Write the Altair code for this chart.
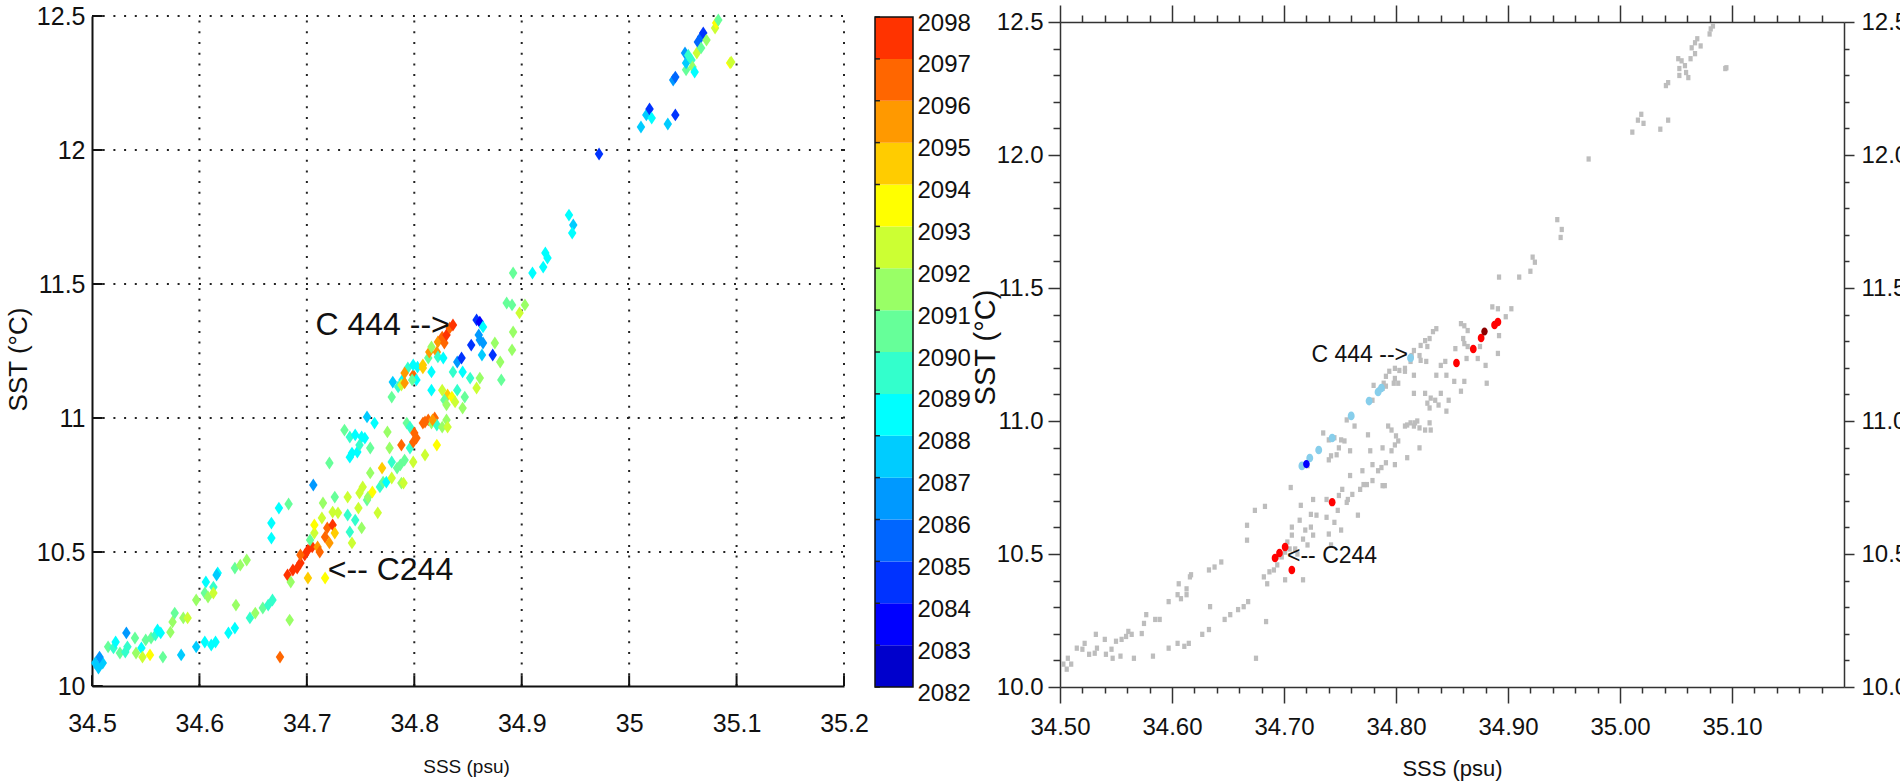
import altair as alt
import pandas as pd

FONT = "Liberation Sans, Arial, sans-serif"

# Sea-surface salinity (psu), temperature (degC) and sampling day of each record
sss = [34.503, 34.506, 34.510, 34.507, 34.515, 34.520, 34.522, 34.526, 34.531, 34.532,
       34.533, 34.540, 34.541, 34.546, 34.547, 34.550, 34.554, 34.555, 34.559, 34.561,
       34.564, 34.566, 34.573, 34.575, 34.577, 34.583, 34.585, 34.589, 34.597, 34.597,
       34.605, 34.606, 34.605, 34.608, 34.613, 34.613, 34.611, 34.615, 34.617, 34.627,
       34.633, 34.634, 34.633, 34.638, 34.644, 34.647, 34.652, 34.659, 34.664, 34.668,
       34.675, 34.684, 34.682, 34.685, 34.687, 34.691, 34.694, 34.701, 34.717, 34.616,
       34.667, 34.667, 34.674, 34.683, 34.698, 34.701, 34.705, 34.694, 34.703, 34.707,
       34.707, 34.710, 34.712, 34.714, 34.715, 34.717, 34.719, 34.721, 34.724, 34.726,
       34.724, 34.729, 34.726, 34.706, 34.721, 34.738, 34.738, 34.740, 34.742, 34.745,
       34.748, 34.749, 34.751, 34.752, 34.756, 34.757, 34.759, 34.761, 34.766, 34.768,
       34.770, 34.771, 34.774, 34.779, 34.779, 34.784, 34.787, 34.788, 34.791, 34.796,
       34.799, 34.810, 34.821, 34.742, 34.747, 34.759, 34.777, 34.788, 34.799, 34.735,
       34.740, 34.745, 34.751, 34.740, 34.756, 34.763, 34.775, 34.779, 34.780, 34.785,
       34.789, 34.788, 34.791, 34.794, 34.799, 34.802, 34.799, 34.803, 34.808, 34.813,
       34.814, 34.816, 34.821, 34.822, 34.822, 34.826, 34.828, 34.830, 34.833, 34.836,
       34.827, 34.816, 34.816, 34.808, 34.798, 34.791, 34.808, 34.813, 34.819, 34.816,
       34.821, 34.826, 34.826, 34.831, 34.828, 34.830, 34.835, 34.838, 34.840, 34.836,
       34.840, 34.844, 34.845, 34.847, 34.845, 34.852, 34.853, 34.858, 34.861, 34.864,
       34.860, 34.861, 34.864, 34.863, 34.861, 34.858, 34.873, 34.875, 34.880, 34.881,
       34.891, 34.892, 34.886, 34.891, 34.898, 34.903, 34.892, 34.910, 34.920, 34.922,
       34.924, 34.944, 34.948, 34.947, 34.972, 35.011, 35.016, 35.019, 35.021, 35.036,
       35.043, 35.041, 35.043, 35.053, 35.052, 35.053, 35.058, 35.059, 35.061, 35.055,
       35.063, 35.064, 35.067, 35.069, 35.067, 35.072, 35.080, 35.081, 35.083, 35.094,
       35.095, 34.790, 34.830, 34.831, 34.793, 34.796, 34.800, 34.802, 34.810, 34.817,
       34.754, 34.749]
sst = [10.086, 10.067, 10.086, 10.108, 10.146, 10.142, 10.164, 10.123, 10.127, 10.198,
       10.146, 10.179, 10.123, 10.142, 10.108, 10.172, 10.116, 10.179, 10.190, 10.209,
       10.198, 10.108, 10.201, 10.239, 10.272, 10.116, 10.254, 10.254, 10.146, 10.321,
       10.164, 10.388, 10.347, 10.332, 10.369, 10.347, 10.153, 10.164, 10.422, 10.198,
       10.216, 10.302, 10.440, 10.451, 10.470, 10.254, 10.272, 10.291, 10.302, 10.321,
       10.108, 10.246, 10.414, 10.388, 10.433, 10.440, 10.459, 10.403, 10.403, 10.414,
       10.552, 10.608, 10.664, 10.679, 10.489, 10.507, 10.519, 10.489, 10.545, 10.571,
       10.601, 10.519, 10.500, 10.627, 10.683, 10.556, 10.590, 10.534, 10.601, 10.571,
       10.649, 10.646, 10.705, 10.750, 10.832, 10.705, 10.638, 10.575, 10.534, 10.619,
       10.664, 10.720, 10.590, 10.743, 10.694, 10.705, 10.795, 10.724, 10.646, 10.743,
       10.813, 10.761, 10.761, 10.776, 10.836, 10.813, 10.825, 10.757, 10.843, 10.888,
       10.836, 10.862, 10.899, 10.869, 10.873, 10.888, 10.888, 10.899, 10.910, 10.955,
       10.929, 10.937, 10.929, 10.854, 11.004, 10.981, 10.948, 11.078, 11.134, 11.116,
       11.142, 11.123, 11.131, 11.187, 11.160, 11.142, 11.198, 11.190, 11.198, 11.224,
       11.246, 11.265, 11.246, 11.228, 11.284, 11.302, 11.280, 11.310, 11.336, 11.347,
       11.224, 11.172, 11.104, 11.187, 11.142, 11.168, 10.981, 10.993, 11.000, 10.981,
       10.974, 10.966, 11.104, 11.086, 11.067, 11.049, 11.078, 11.060, 11.104, 11.172,
       11.209, 11.224, 11.172, 11.078, 11.037, 11.149, 11.272, 11.366, 11.358, 11.340,
       11.310, 11.291, 11.280, 11.235, 11.149, 11.112, 11.235, 11.280, 11.209, 11.142,
       11.254, 11.321, 11.429, 11.422, 11.392, 11.422, 11.541, 11.541, 11.563, 11.616,
       11.597, 11.757, 11.720, 11.690, 11.985, 12.086, 12.131, 12.153, 12.119, 12.097,
       12.131, 12.261, 12.272, 12.299, 12.362, 12.325, 12.336, 12.310, 12.291, 12.354,
       12.362, 12.403, 12.422, 12.437, 12.381, 12.410, 12.455, 12.474, 12.485, 12.325,
       12.328, 10.757, 10.993, 10.966, 10.981, 10.966, 10.944, 10.925, 10.985, 10.993,
       10.925, 10.899]
day = [2087, 2087, 2087, 2086, 2090, 2089, 2088, 2090, 2089, 2086,
       2089, 2090, 2091, 2088, 2092, 2090, 2093, 2090, 2089, 2088,
       2088, 2090, 2091, 2091, 2090, 2087, 2091, 2092, 2087, 2091,
       2088, 2088, 2090, 2091, 2089, 2092, 2088, 2088, 2088, 2088,
       2088, 2091, 2090, 2091, 2091, 2089, 2091, 2090, 2089, 2089,
       2096, 2091, 2097, 2091, 2097, 2097, 2097, 2094, 2093, 2087,
       2088, 2088, 2088, 2090, 2097, 2097, 2097, 2096, 2090, 2092,
       2093, 2095, 2096, 2092, 2091, 2096, 2096, 2095, 2097, 2094,
       2092, 2092, 2090, 2086, 2090, 2092, 2089, 2089, 2092, 2089,
       2092, 2092, 2091, 2092, 2090, 2091, 2091, 2093, 2092, 2089,
       2094, 2090, 2088, 2092, 2089, 2090, 2090, 2091, 2090, 2089,
       2092, 2092, 2093, 2088, 2088, 2090, 2091, 2096, 2096, 2090,
       2089, 2088, 2088, 2088, 2087, 2088, 2091, 2090, 2087, 2089,
       2088, 2092, 2095, 2089, 2096, 2088, 2088, 2088, 2094, 2090,
       2095, 2091, 2095, 2089, 2095, 2096, 2096, 2097, 2096, 2097,
       2088, 2088, 2088, 2094, 2090, 2095, 2096, 2096, 2096, 2091,
       2089, 2091, 2092, 2094, 2090, 2091, 2093, 2092, 2089, 2089,
       2086, 2084, 2088, 2090, 2091, 2089, 2084, 2084, 2083, 2088,
       2086, 2086, 2086, 2087, 2091, 2092, 2084, 2091, 2091, 2090,
       2091, 2091, 2090, 2090, 2092, 2091, 2090, 2088, 2088, 2088,
       2088, 2088, 2087, 2088, 2084, 2087, 2087, 2084, 2088, 2087,
       2084, 2086, 2085, 2090, 2086, 2087, 2089, 2091, 2088, 2089,
       2092, 2085, 2085, 2084, 2090, 2091, 2092, 2093, 2090, 2093,
       2092, 2092, 2091, 2092, 2090, 2089, 2096, 2096, 2096, 2095,
       2088, 2089]

# Samples picked out in the right-hand panel
sky_sss = [34.716, 34.723, 34.731, 34.743, 34.760, 34.776, 34.784, 34.787, 34.813]
sky_sst = [10.831, 10.861, 10.891, 10.936, 11.019, 11.075, 11.109, 11.124, 11.237]
red_sss = [34.692, 34.696, 34.701, 34.707, 34.743, 34.854, 34.869, 34.876, 34.888, 34.891]
red_sst = [10.485, 10.504, 10.526, 10.440, 10.695, 11.218, 11.271, 11.312, 11.361, 11.372]
blue_sss = [34.720]
blue_sst = [10.838]
dark_sss = [34.879]
dark_sst = [11.336]

# Colour bar: one block per day
bar_days = list(range(2082, 2098))
bar_colors = ["#0000CC", "#0000FF", "#0033FF", "#0066FF", "#0099FF", "#00CCFF",
              "#00FFFF", "#33FFCC", "#66FF99", "#99FF66", "#CCFF33", "#FFFF00",
              "#FFCC00", "#FF9900", "#FF6600", "#FF3300"]
bar_labels = list(range(2082, 2099))

# Tick values
left_x_ticks = [34.5, 34.6, 34.7, 34.8, 34.9, 35.0, 35.1, 35.2]
left_y_ticks = [10.0, 10.5, 11.0, 11.5, 12.0, 12.5]
right_x_major = [34.5, 34.6, 34.7, 34.8, 34.9, 35.0, 35.1]
right_x_minor = [round(34.5 + 0.02 * i, 2) for i in range(1, 35) if i % 5]
right_y_major = [10.0, 10.5, 11.0, 11.5, 12.0, 12.5]
right_y_minor = [round(10 + 0.1 * i, 1) for i in range(1, 25) if i % 5]

DIAMOND = "M0,-1L0.66,0L0,1L-0.66,0Z"
ELLIPSE = "M0,-1A0.8,1 0 1,1 0,1A0.8,1 0 1,1 0,-1Z"
SQUARE = "M-0.8,-1L0.8,-1L0.8,1L-0.8,1Z"

W, H = 1900, 783


def lin(domain, rng):
    return alt.Scale(domain=domain, range=rng, nice=False, zero=False)


# pixel extents of the three panels
LX, LY = [92, 844], [686, 16]
BX, BY = [875, 913], [687, 17]
RX, RY = [1060, 1844], [687, 22]

df = pd.DataFrame({"sss": sss, "sst": sst, "day": day})
day_color = alt.Scale(type="threshold", domain=bar_days[1:], range=bar_colors)

# ---------------- left panel: samples coloured by day ----------------
left_pts = alt.Chart(df).mark_point(shape=DIAMOND, filled=True, size=165, opacity=1, strokeWidth=0).encode(
    x=alt.X("sss:Q", scale=lin([34.5, 35.2], LX), axis=alt.Axis(
        orient="bottom", offset=-97, values=left_x_ticks, format="~g", grid=False,
        ticks=True, tickSize=1, tickOpacity=0, domainColor="#111", domainWidth=2,
        labelFont=FONT, labelFontSize=25, labelColor="#111", labelPadding=24,
        labelFlush=False, labelOverlap=False,
        title="SSS (psu)", titleFont=FONT, titleFontSize=19, titleFontWeight="normal",
        titleColor="#111", titleX=466, titleY=80, titleBaseline="middle")),
    y=alt.Y("sst:Q", scale=lin([10, 12.5], LY), axis=alt.Axis(
        orient="left", offset=-92, values=left_y_ticks, format="~g", grid=False,
        ticks=True, tickSize=1, tickOpacity=0, domainColor="#111", domainWidth=2,
        labelFont=FONT, labelFontSize=25, labelColor="#111", labelPadding=6,
        labelFlush=False, labelOverlap=False,
        title="SST (°C)", titleFont=FONT, titleFontSize=26, titleFontWeight="normal",
        titleColor="#111", titleX=-74, titleY=359, titleAngle=270,
        titleBaseline="middle", titleAlign="center")),
    color=alt.Color("day:Q", scale=day_color, legend=None))

grid_style = dict(strokeDash=[2, 8.7], strokeWidth=2, color="#222")
vgrid = alt.Chart(pd.DataFrame({"sss": left_x_ticks[1:], "lo": 10.0, "hi": 12.5})).mark_rule(**grid_style).encode(
    x=alt.X("sss:Q", scale=lin([34.5, 35.2], LX), axis=None),
    y=alt.Y("lo:Q", scale=lin([10, 12.5], LY), axis=None), y2="hi:Q")
hgrid = alt.Chart(pd.DataFrame({"sst": left_y_ticks[1:], "lo": 34.5, "hi": 35.2})).mark_rule(**grid_style).encode(
    y=alt.Y("sst:Q", scale=lin([10, 12.5], LY), axis=None),
    x=alt.X("lo:Q", scale=lin([34.5, 35.2], LX), axis=None), x2="hi:Q")
xin = alt.Chart(pd.DataFrame({"sss": left_x_ticks, "lo": 10.0, "hi": 10.04})).mark_rule(color="#111", strokeWidth=2).encode(
    x=alt.X("sss:Q", scale=lin([34.5, 35.2], LX), axis=None),
    y=alt.Y("lo:Q", scale=lin([10, 12.5], LY), axis=None), y2="hi:Q")
yin = alt.Chart(pd.DataFrame({"sst": left_y_ticks, "lo": 34.5, "hi": 34.51})).mark_rule(color="#111", strokeWidth=2).encode(
    y=alt.Y("sst:Q", scale=lin([10, 12.5], LY), axis=None),
    x=alt.X("lo:Q", scale=lin([34.5, 35.2], LX), axis=None), x2="hi:Q")

left_note_r = alt.Chart(pd.DataFrame({"sss": [34.833], "sst": [11.347], "t": ["C 444 -->"]})).mark_text(
    align="right", baseline="middle", font=FONT, fontSize=32, color="#111").encode(
    x=alt.X("sss:Q", scale=lin([34.5, 35.2], LX), axis=None),
    y=alt.Y("sst:Q", scale=lin([10, 12.5], LY), axis=None), text="t:N")
left_note_l = alt.Chart(pd.DataFrame({"sss": [34.7195], "sst": [10.433], "t": ["<-- C244"]})).mark_text(
    align="left", baseline="middle", font=FONT, fontSize=32, color="#111").encode(
    x=alt.X("sss:Q", scale=lin([34.5, 35.2], LX), axis=None),
    y=alt.Y("sst:Q", scale=lin([10, 12.5], LY), axis=None), text="t:N")

# ---------------- colour bar ----------------
cbar_df = pd.DataFrame({"lo": bar_days, "hi": [d + 1 for d in bar_days], "a": 0.0, "b": 1.0})
blocks = alt.Chart(cbar_df).mark_rect(strokeWidth=0).encode(
    x=alt.X("a:Q", scale=lin([0, 1], BX), axis=None), x2="b:Q",
    y=alt.Y("lo:Q", scale=lin([2082, 2098], BY), axis=alt.Axis(
        orient="right", offset=-987, values=bar_labels, format="d", grid=False,
        ticks=True, tickSize=1, tickOpacity=0, domain=False, labelFont=FONT, labelFontSize=24,
        labelColor="#111", labelPadding=3, labelOffset=6, labelFlush=False,
        labelOverlap=False, title=None)),
    y2="hi:Q",
    color=alt.Color("lo:Q", scale=day_color, legend=None))
bar_ticks = alt.Chart(pd.DataFrame({"v": bar_labels, "a": 0.0, "b": 0.13})).mark_rule(color="#222", strokeWidth=1.5).encode(
    x=alt.X("a:Q", scale=lin([0, 1], BX), axis=None), x2="b:Q",
    y=alt.Y("v:Q", scale=lin([2082, 2098], BY), axis=None))
outline = alt.Chart(pd.DataFrame({"a": [0.0], "b": [1.0], "lo": [2082], "hi": [2098]})).mark_rect(
    fillOpacity=0, stroke="#111", strokeWidth=1.5).encode(
    x=alt.X("a:Q", scale=lin([0, 1], BX), axis=None), x2="b:Q",
    y=alt.Y("lo:Q", scale=lin([2082, 2098], BY), axis=None), y2="hi:Q")

# ---------------- right panel: all samples in grey, selected ones coloured ----------------
ax_common = dict(grid=False, tickColor="#333", tickWidth=1.5, domainColor="#333", domainWidth=1.5,
                 labelFont=FONT, labelColor="#111", labelFlush=False, labelOverlap=False)
frame_df = pd.DataFrame({"sss": [34.5, 35.2], "sst": [10.0, 12.5]})

gray = alt.Chart(df).mark_point(shape=SQUARE, filled=True, size=28, opacity=1, strokeWidth=0, color="#bdbdbd").encode(
    x=alt.X("sss:Q", scale=lin([34.5, 35.2], RX), axis=alt.Axis(
        orient="bottom", offset=-96, values=right_x_major, format=".2f", tickSize=16,
        labelFontSize=24, labelPadding=12,
        title="SSS (psu)", titleFont=FONT, titleFontSize=22, titleFontWeight="normal",
        titleColor="#111", titleX=1452, titleY=81, titleBaseline="middle", **ax_common)),
    y=alt.Y("sst:Q", scale=lin([10, 12.5], RY), axis=alt.Axis(
        orient="left", offset=-1060, values=right_y_major, format=".1f", tickSize=12,
        labelFontSize=24, labelPadding=5,
        title="SST (°C)", titleFont=FONT, titleFontSize=29, titleFontWeight="normal",
        titleColor="#111", titleX=-75, titleY=347, titleAngle=270,
        titleBaseline="middle", titleAlign="center", **ax_common)))

minor_bl = alt.Chart(frame_df).mark_point(opacity=0).encode(
    x=alt.X("sss:Q", scale=lin([34.5, 35.2], RX), axis=alt.Axis(
        orient="bottom", offset=-96, values=right_x_minor, tickSize=6, labels=False,
        domain=False, title=None, **ax_common)),
    y=alt.Y("sst:Q", scale=lin([10, 12.5], RY), axis=alt.Axis(
        orient="left", offset=-1060, values=right_y_minor, tickSize=7, labels=False,
        domain=False, title=None, **ax_common)))

major_tr = alt.Chart(frame_df).mark_point(opacity=0).encode(
    x=alt.X("sss:Q", scale=lin([34.5, 35.2], RX), axis=alt.Axis(
        orient="top", offset=-22, values=right_x_major, tickSize=17, labels=False,
        title=None, **ax_common)),
    y=alt.Y("sst:Q", scale=lin([10, 12.5], RY), axis=alt.Axis(
        orient="right", offset=-56, values=right_y_major, format=".1f", tickSize=10,
        labelFontSize=24, labelPadding=7, title=None, **ax_common)))

minor_tr = alt.Chart(frame_df).mark_point(opacity=0).encode(
    x=alt.X("sss:Q", scale=lin([34.5, 35.2], RX), axis=alt.Axis(
        orient="top", offset=-22, values=right_x_minor, tickSize=7, labels=False,
        domain=False, title=None, **ax_common)),
    y=alt.Y("sst:Q", scale=lin([10, 12.5], RY), axis=alt.Axis(
        orient="right", offset=-56, values=right_y_minor, tickSize=5, labels=False,
        domain=False, title=None, **ax_common)))

groups = ["sky", "red", "blue", "dark"]
hl_df = pd.DataFrame({
    "sss": sky_sss + red_sss + blue_sss + dark_sss,
    "sst": sky_sst + red_sst + blue_sst + dark_sst,
    "grp": ["sky"] * len(sky_sss) + ["red"] * len(red_sss) + ["blue"] * len(blue_sss) + ["dark"] * len(dark_sss),
})
highlight = alt.Chart(hl_df).mark_point(shape=ELLIPSE, filled=True, opacity=1, strokeWidth=0).encode(
    x=alt.X("sss:Q", scale=lin([34.5, 35.2], RX), axis=None),
    y=alt.Y("sst:Q", scale=lin([10, 12.5], RY), axis=None),
    color=alt.Color("grp:N", scale=alt.Scale(domain=groups, range=["#87ceeb", "#ff0000", "#0000ff", "#8b0000"]), legend=None),
    size=alt.Size("grp:N", scale=alt.Scale(domain=groups, range=[75, 64, 130, 130]), legend=None))

right_note_r = alt.Chart(pd.DataFrame({"sss": [34.8107], "sst": [11.248], "t": ["C 444 -->"]})).mark_text(
    align="right", baseline="middle", font=FONT, fontSize=23, color="#111").encode(
    x=alt.X("sss:Q", scale=lin([34.5, 35.2], RX), axis=None),
    y=alt.Y("sst:Q", scale=lin([10, 12.5], RY), axis=None), text="t:N")
right_note_l = alt.Chart(pd.DataFrame({"sss": [34.7027], "sst": [10.4925], "t": ["<-- C244"]})).mark_text(
    align="left", baseline="middle", font=FONT, fontSize=23, color="#111").encode(
    x=alt.X("sss:Q", scale=lin([34.5, 35.2], RX), axis=None),
    y=alt.Y("sst:Q", scale=lin([10, 12.5], RY), axis=None), text="t:N")

chart = alt.layer(
    vgrid, hgrid, xin, yin, left_pts, left_note_r, left_note_l,
    blocks, bar_ticks, outline,
    gray, minor_bl, major_tr, minor_tr, highlight, right_note_r, right_note_l,
).resolve_scale(
    x="independent", y="independent", color="independent", size="independent"
).properties(
    width=W, height=H, padding=0, background="white",
    autosize=alt.AutoSizeParams(type="none"),
).configure_view(strokeWidth=0)

chart.save("out.html", embed_options={"renderer": "svg", "actions": False})
